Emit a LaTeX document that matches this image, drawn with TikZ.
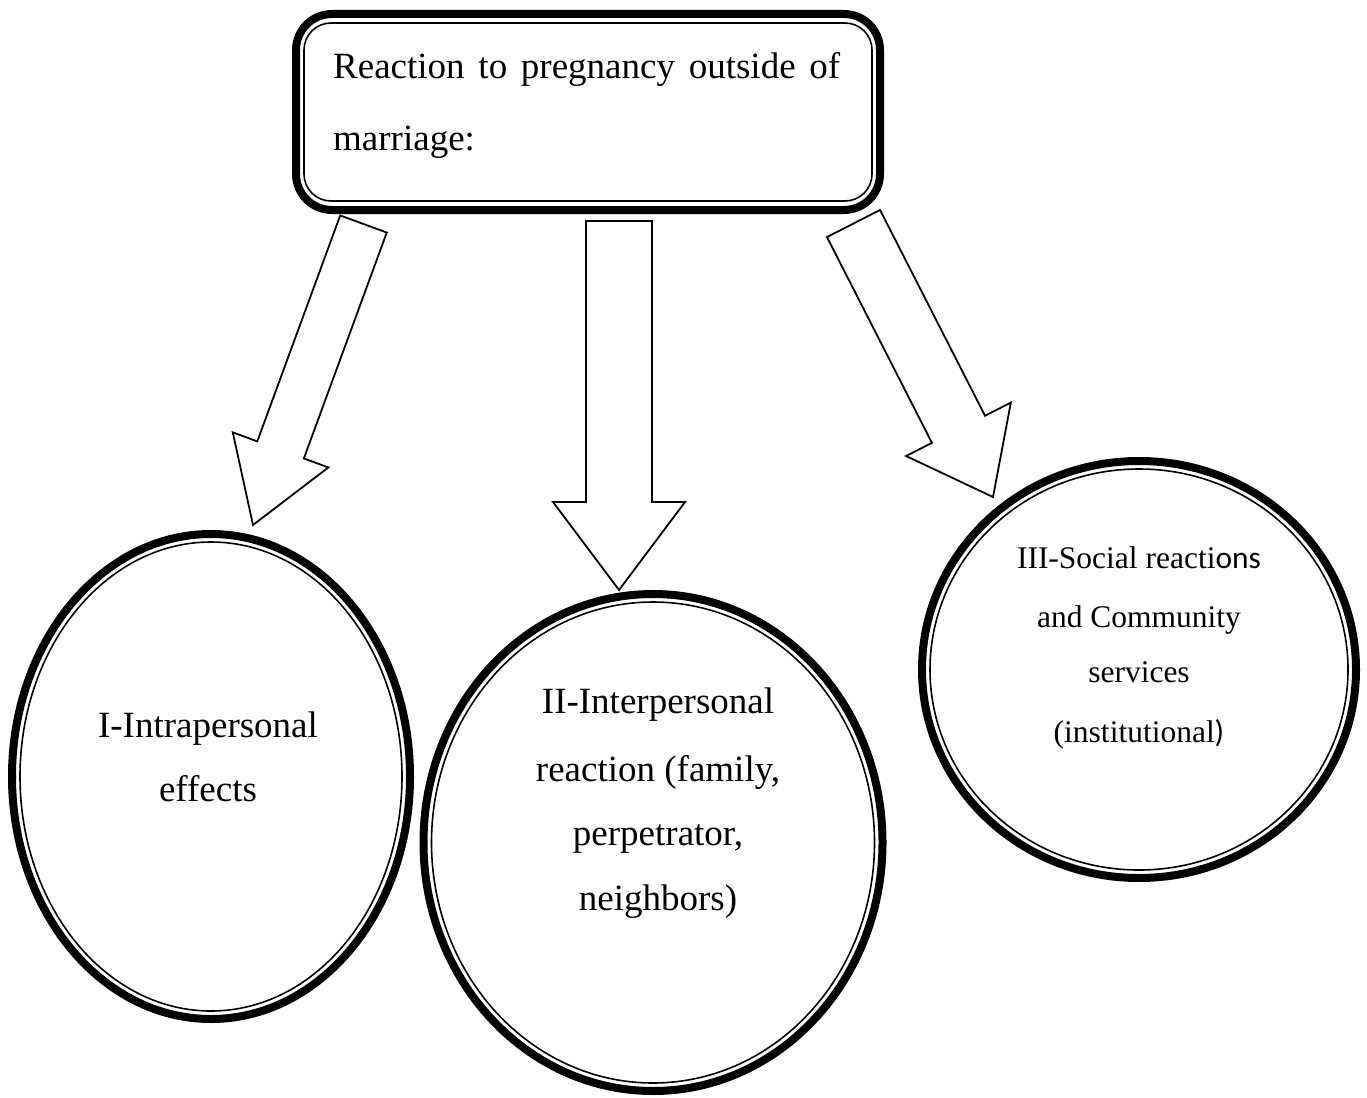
\documentclass[tikz,border=0pt]{standalone}
\usepackage{fontspec}
\setmainfont{Liberation Serif}
\newfontfamily\carlitofont{Carlito}
\usetikzlibrary{calc,shapes.geometric}

\tikzset{
  heading/.style={draw=black, fill=white, line width=8pt, rectangle,
    rounded corners=36pt, inner sep=0pt, outer sep=0pt},
  headinginner/.style={draw=black, line width=1.6pt, rounded corners=27pt},
  ring/.style={draw=black, fill=white, line width=8pt, ellipse,
    inner sep=0pt, outer sep=0pt},
  ringinner/.style={draw=black, line width=1.6pt},
  blockarrow/.style={draw=black, fill=white, line width=1.8pt, line join=miter},
  bigtext/.style={font=\fontsize{37}{44}\selectfont, inner sep=0pt, anchor=base},
  smalltext/.style={font=\fontsize{31.5}{38}\selectfont, inner sep=0pt, anchor=base},
}

% block arrow: #1 start, #2 tip, #3 half shaft width, #4 half head width, #5 head length
\newcommand\blockarrowfrom[5]{%
  \coordinate (#1h) at ($(#2)!#5!(#1)$);
  \draw[blockarrow]
    ($(#1)!#3!90:(#2)$) -- ($(#1h)!#3!90:(#2)$) -- ($(#1h)!#4!90:(#2)$) --
    (#2) --
    ($(#1h)!#4!-90:(#2)$) -- ($(#1h)!#3!-90:(#2)$) -- ($(#1)!#3!-90:(#2)$) -- cycle;
}

\begin{document}
\begin{tikzpicture}[x=1pt, y=-1pt]
  \useasboundingbox (0,0) rectangle (1367,1097);

  % arrow anchors: starts under the heading box, tips above the rings
  \coordinate (sA) at (363.5,224);  \coordinate (tA) at (253,525);
  \coordinate (sB) at (619,221);    \coordinate (tB) at (619,590);
  \coordinate (sC) at (853.5,223.5); \coordinate (tC) at (993,497);

  \blockarrowfrom{sA}{tA}{24.8pt}{50.9pt}{80pt}
  \blockarrowfrom{sB}{tB}{33pt}{66pt}{88pt}
  \blockarrowfrom{sC}{tC}{29.8pt}{58.8pt}{76pt}

  % heading box with thick-thin border
  \node[heading, minimum width=584pt, minimum height=196pt] (box) at (588,112) {};
  \draw[headinginner] ($(box.north west)+(8,9)$) rectangle ($(box.south east)+(-8,-9)$);
  \node[bigtext, anchor=base west] (boxl1) at (333,79)
    {\makebox[507pt][s]{Reaction to pregnancy outside of}};
  \node[bigtext, anchor=base west] (boxl2) at (333,150) {marriage:};

  % ring I
  \node[ring, minimum width=398pt, minimum height=485pt] (e1) at (211,776.5) {};
  \draw[ringinner] (e1.center) ellipse [x radius=191pt, y radius=234.5pt];
  \node[bigtext] (e1l1) at (208,737) {I-Intrapersonal};
  \node[bigtext] (e1l2) at (208,801) {effects};

  % ring II
  \node[ring, minimum width=459pt, minimum height=497pt] (e2) at (653,842.5) {};
  \draw[ringinner] (e2.center) ellipse [x radius=221.5pt, y radius=240.5pt];
  \node[bigtext] (e2l1) at (658,713) {II-Interpersonal};
  \node[bigtext] (e2l2) at (658,781) {reaction (family,};
  \node[bigtext] (e2l3) at (658,845) {perpetrator,};
  \node[bigtext] (e2l4) at (658,910) {neighbors)};

  % ring III
  \node[ring, minimum width=434pt, minimum height=417pt] (e3) at (1139,669.5) {};
  \draw[ringinner] (e3.center) ellipse [x radius=209pt, y radius=200.5pt];
  \node[smalltext] (e3l1) at (1139,568) {III-Social reacti{\carlitofont ons}};
  \node[smalltext] (e3l2) at (1139,627) {and Community};
  \node[smalltext] (e3l3) at (1139,682) {services};
  \node[smalltext] (e3l4) at (1139,742) {(institutional{\carlitofont )}};
\end{tikzpicture}
\end{document}
